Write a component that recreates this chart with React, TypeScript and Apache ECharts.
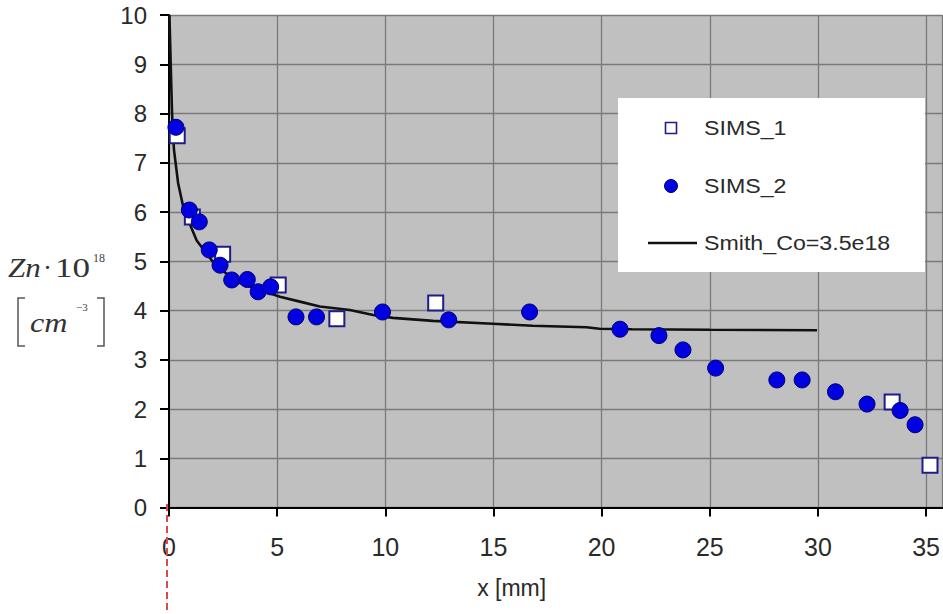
import React, { useEffect, useRef } from "react";
import * as echarts from "echarts";

// SIMS_1 (open squares)
const sims1X = [0.38, 1.08, 2.48, 5.05, 7.76, 12.33, 33.43, 35.18];
const sims1Y = [7.55, 5.9, 5.14, 4.52, 3.83, 4.15, 2.14, 0.86];

// SIMS_2 (filled circles)
const sims2X = [0.32, 0.94, 1.4, 1.86, 2.36, 2.9, 3.62, 4.12, 4.7, 5.87, 6.82, 9.87, 12.93, 16.67, 20.85, 22.65, 23.76, 25.27, 28.1, 29.27, 30.81, 32.27, 33.8, 34.49];
const sims2Y = [7.72, 6.04, 5.8, 5.23, 4.92, 4.62, 4.63, 4.38, 4.48, 3.87, 3.87, 3.97, 3.81, 3.97, 3.62, 3.49, 3.2, 2.83, 2.59, 2.59, 2.35, 2.1, 1.97, 1.68];

// Smith_Co=3.5e18 model curve
const smithX = [0.02, 0.08, 0.14, 0.23, 0.42, 0.69, 1.28, 2.2, 3.28, 5.13, 6.05, 6.97, 8.36, 9.44, 10.35, 12.2, 14.97, 16.81, 19.3, 19.9, 21.4, 25.0, 29.96];
const smithY = [10.0, 8.98, 8.01, 7.26, 6.59, 6.04, 5.42, 4.89, 4.56, 4.28, 4.18, 4.08, 4.01, 3.91, 3.85, 3.79, 3.73, 3.69, 3.66, 3.63, 3.62, 3.61, 3.6];

const legendNames = ["SIMS_1", "SIMS_2", "Smith_Co=3.5e18"];
const xAxisTitle = "x [mm]";

const zip = (xs: number[], ys: number[]) => xs.map((x, i) => [x, ys[i]]);

export default function App() {
  const ref = useRef<HTMLDivElement>(null);

  useEffect(() => {
    if (!ref.current) return;
    const chart = echarts.init(ref.current, null, { renderer: "svg" });
    const sans = "'Liberation Sans', Arial, sans-serif";
    const serif = "'Liberation Serif', 'Times New Roman', serif";
    const navy = "#1c1c8c";
    const txt = "#2a2a2a";

    chart.setOption({
      animation: false,
      backgroundColor: "#ffffff",
      grid: {
        left: 169,
        top: 15,
        right: 0,
        bottom: 106.5,
        show: true,
        backgroundColor: "#c0c0c0",
        borderWidth: 0,
      },
      xAxis: {
        type: "value",
        min: 0,
        max: 35.75,
        interval: 5,
        name: xAxisTitle,
        nameLocation: "middle",
        nameGap: 69,
        nameTextStyle: {
          fontFamily: sans,
          fontSize: 23,
          color: txt,
          padding: [0, 88, 0, 0],
        },
        axisLine: { show: true, onZero: false, lineStyle: { color: "#000", width: 2 } },
        axisTick: { show: true, inside: false, length: 9, lineStyle: { color: "#000", width: 2 } },
        axisLabel: {
          show: true,
          margin: 27,
          fontFamily: sans,
          fontSize: 25,
          color: txt,
          showMaxLabel: false,
        },
        splitLine: { show: true, lineStyle: { color: "#7a7a7a", width: 1.3 } },
      },
      yAxis: {
        type: "value",
        min: 0,
        max: 10,
        interval: 1,
        axisLine: { show: true, onZero: false, lineStyle: { color: "#000", width: 2 } },
        axisTick: { show: true, inside: false, length: 9, lineStyle: { color: "#000", width: 2 } },
        axisLabel: {
          margin: 22,
          fontFamily: sans,
          fontSize: 24,
          color: txt,
        },
        splitLine: { show: true, lineStyle: { color: "#7a7a7a", width: 1.3 } },
      },
      series: [
        {
          name: legendNames[2],
          type: "line",
          data: zip(smithX, smithY),
          showSymbol: false,
          symbol: "none",
          smooth: false,
          lineStyle: { color: "#111", width: 2.6 },
          z: 2,
        },
        {
          name: legendNames[0],
          type: "scatter",
          data: zip(sims1X, sims1Y),
          symbol: "rect",
          symbolSize: 15,
          itemStyle: { color: "#ffffff", borderColor: navy, borderWidth: 2, opacity: 1 },
          z: 3,
        },
        {
          name: legendNames[1],
          type: "scatter",
          data: zip(sims2X, sims2Y),
          symbol: "circle",
          symbolSize: 16,
          itemStyle: { color: "#0000e0", borderColor: "#000070", borderWidth: 1, opacity: 1 },
          z: 4,
        },
      ],
      graphic: [
        // legend box
        { type: "rect", shape: { x: 618, y: 98, width: 307, height: 174 }, style: { fill: "#ffffff" }, z: 100 },
        { type: "rect", shape: { x: 665.5, y: 122.5, width: 11, height: 11 }, style: { fill: "#ffffff", stroke: navy, lineWidth: 1.6 }, z: 101 },
        { type: "circle", shape: { cx: 671, cy: 186, r: 6.5 }, style: { fill: "#0000e0", stroke: "#000070", lineWidth: 1 }, z: 101 },
        { type: "line", shape: { x1: 648, y1: 243, x2: 697, y2: 243 }, style: { stroke: "#111", lineWidth: 2.6 }, z: 101 },
        { type: "text", x: 704, y: 128, scaleX: 1.16, style: { text: legendNames[0], fontFamily: sans, fontSize: 20, fill: txt, verticalAlign: "middle", align: "left" }, z: 101 },
        { type: "text", x: 704, y: 186, scaleX: 1.16, style: { text: legendNames[1], fontFamily: sans, fontSize: 20, fill: txt, verticalAlign: "middle", align: "left" }, z: 101 },
        { type: "text", x: 704, y: 243, scaleX: 1.16, style: { text: legendNames[2], fontFamily: sans, fontSize: 20, fill: txt, verticalAlign: "middle", align: "left" }, z: 101 },
        // y-axis title: Zn·10^18 [cm^-3]
        { type: "text", x: 8, y: 268, scaleX: 1.15, style: { text: "Zn", fontFamily: serif, fontStyle: "italic", fontSize: 27, fill: "#333", verticalAlign: "middle", align: "left" }, z: 101 },
        { type: "text", x: 43, y: 268, style: { text: "·", fontFamily: serif, fontSize: 27, fill: "#333", verticalAlign: "middle", align: "left" }, z: 101 },
        { type: "text", x: 55, y: 268, scaleX: 1.3, style: { text: "10", fontFamily: serif, fontSize: 27, fill: "#333", verticalAlign: "middle", align: "left" }, z: 101 },
        { type: "text", x: 93, y: 258, style: { text: "18", fontFamily: serif, fontSize: 12, fill: "#444", verticalAlign: "middle", align: "left" }, z: 101 },
        { type: "polyline", shape: { points: [[25, 298], [18, 298], [18, 346], [25, 346]] }, style: { stroke: "#555", lineWidth: 1.5, fill: "none" }, z: 101 },
        { type: "polyline", shape: { points: [[97, 298], [104, 298], [104, 346], [97, 346]] }, style: { stroke: "#555", lineWidth: 1.5, fill: "none" }, z: 101 },
        { type: "text", x: 30, y: 323, scaleX: 1.15, style: { text: "cm", fontFamily: serif, fontStyle: "italic", fontSize: 28, fill: "#333", verticalAlign: "middle", align: "left" }, z: 101 },
        { type: "text", x: 76, y: 307, style: { text: "−3", fontFamily: serif, fontSize: 11, fill: "#444", verticalAlign: "middle", align: "left" }, z: 101 },
        // red dashed marker below x = 0
        { type: "line", shape: { x1: 167, y1: 504, x2: 167, y2: 614 }, style: { stroke: "#e04848", lineWidth: 2, lineDash: [7, 4] }, z: 102 },
      ],
    });

    return () => chart.dispose();
  }, []);

  return (
    <div
      ref={ref}
      style={{ position: "absolute", left: 0, top: 0, width: 943, height: 614 }}
    />
  );
}
